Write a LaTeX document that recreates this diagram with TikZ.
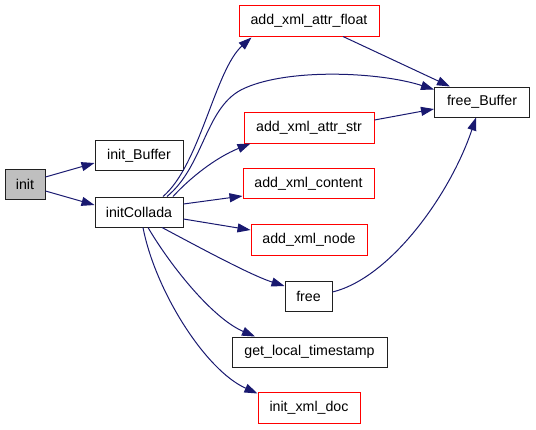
\documentclass[tikz,border=0pt]{standalone}
\usepackage{fontspec}
\setmainfont{Liberation Sans}
\usetikzlibrary{arrows.meta}
\definecolor{edgeblue}{HTML}{191970}
\definecolor{boxred}{HTML}{FF0000}
\definecolor{initgray}{HTML}{BFBFBF}
\definecolor{boxblack}{HTML}{202020}
\begin{document}
\begin{tikzpicture}[x=1pt,y=-1pt,
  fn/.style={draw=boxblack,line width=1pt,rectangle,inner sep=0pt,minimum height=30pt,
    font=\fontsize{14.2}{16}\selectfont},
  redfn/.style={fn,draw=boxred},
  edge/.style={draw=edgeblue,line width=1pt,-{Triangle[length=13pt,width=9pt]},fill=none},
]
\useasboundingbox (0,0) rectangle (536,429);
\node[fn,fill=initgray,minimum width=40pt] (init) at (25,184) {init};
\node[fn,minimum width=88pt] (initBuffer) at (139,155.5) {init\_Buffer};
\node[fn,minimum width=88pt] (initCollada) at (139,212) {initCollada};
\node[redfn,minimum width=140pt,minimum height=31pt] (float) at (309,20.5) {add\_xml\_attr\_float};
\node[fn,minimum width=95pt] (freeBuffer) at (482,102) {free\_Buffer};
\node[redfn,minimum width=130pt,minimum height=31pt] (str) at (309,127.5) {add\_xml\_attr\_str};
\node[redfn,minimum width=131pt] (content) at (308.5,183.5) {add\_xml\_content};
\node[redfn,minimum width=116pt,minimum height=31pt] (xnode) at (309,239.5) {add\_xml\_node};
\node[fn,minimum width=47pt] (free) at (308.5,296.5) {free};
\node[fn,minimum width=155pt] (ts) at (309.5,352) {get\_local\_timestamp};
\node[redfn,minimum width=102pt,minimum height=31pt] (doc) at (309,407.5) {init\_xml\_doc};

\draw[edge] ([yshift=7pt]init.east) -- ([yshift=-7.5pt]initBuffer.west);
\draw[edge] ([yshift=-7pt]init.east) -- ([yshift=7pt]initCollada.west);

\draw[edge] ([xshift=24pt]initCollada.north) .. controls (200,165) and (215,70) .. ([xshift=13pt,yshift=-1pt]float.south west);
\draw[edge] ([xshift=28pt]initCollada.north) .. controls (205,165) and (205,105) .. (245,88)
  .. controls (290,68) and (380,72) .. ([yshift=-3pt]freeBuffer.north west);
\draw[edge] ([xshift=34pt]initCollada.north) .. controls (190,178) and (215,158) .. ([xshift=7pt]str.south west);
\draw[edge] ([yshift=8pt]initCollada.east) -- ([yshift=-12.5pt]content.west);
\draw[edge] ([yshift=-7pt]initCollada.east) -- ([yshift=9.5pt]xnode.west);
\draw[edge] ([xshift=23pt]initCollada.south) .. controls (195,245) and (250,275) .. ([yshift=10.5pt]free.west);
\draw[edge] ([xshift=9pt]initCollada.south) .. controls (170,265) and (212,318) .. ([xshift=-54.5pt]ts.north);
\draw[edge] ([xshift=4pt]initCollada.south) .. controls (155,290) and (205,370) .. ([yshift=-2pt]doc.north west);

\draw[edge] ([xshift=34pt]float.south) -- ([xshift=-32pt]freeBuffer.north);
\draw[edge] ([yshift=7.5pt]str.east) -- ([yshift=-7pt]freeBuffer.west);
\draw[edge] ([yshift=4.5pt]free.east) .. controls (390,278) and (450,195) .. ([xshift=-6pt]freeBuffer.south);
\end{tikzpicture}
\end{document}
